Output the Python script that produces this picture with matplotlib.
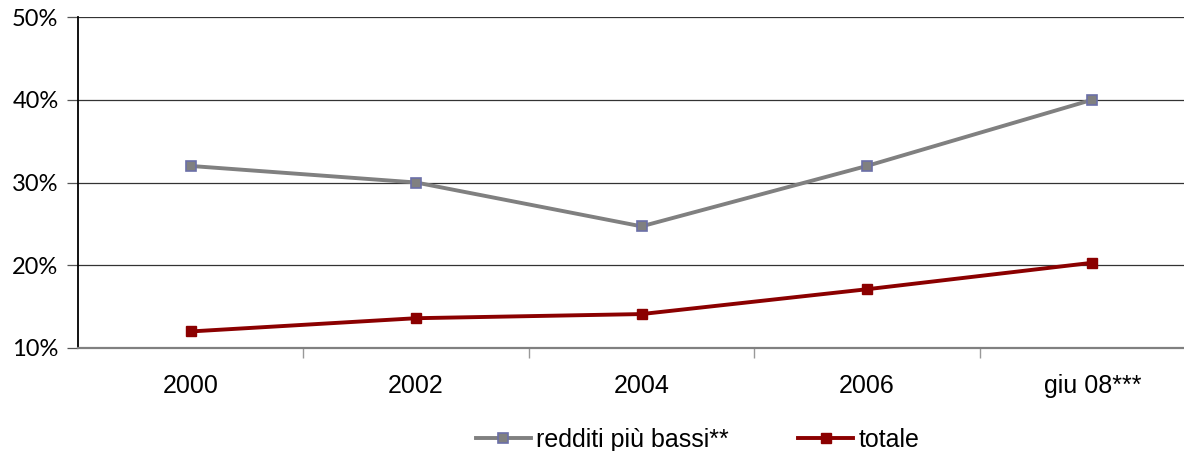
import matplotlib.pyplot as plt
from matplotlib.ticker import FixedLocator

# dati
anni = ['2000', '2002', '2004', '2006', 'giu 08***']
redditi_bassi = [32.0, 30.0, 24.7, 32.0, 40.0]
totale = [12.0, 13.6, 14.1, 17.1, 20.3]
percentuali = [10, 20, 30, 40, 50]

fig = plt.figure(figsize=(11.84, 4.51), dpi=100)
ax = fig.add_axes([78 / 1184, 1 - 348 / 451, 1127 / 1184, 331 / 451])

x = range(len(anni))
ax.plot(x, redditi_bassi, color='#808080', lw=2.8, marker='s', ms=7.5,
        mfc='#808080', mec='#6b6fa8', mew=1.2, label='redditi più bassi**', zorder=3)
ax.plot(x, totale, color='#8b0000', lw=2.8, marker='s', ms=7.5,
        mfc='#8b0000', mec='#8b0000', label='totale', zorder=3)

ax.set_xlim(-0.5, len(anni) - 0.5)
ax.set_ylim(10, 50)

# griglia orizzontale
ax.set_yticks(percentuali)
ax.set_yticklabels([f'{p}%' for p in percentuali], fontfamily='Lato', fontsize=17)
ax.grid(axis='y', color='#333333', lw=0.9)
ax.set_axisbelow(True)
ax.tick_params(axis='y', length=8, width=0.9, color='#555555', pad=6)

# etichette categorie, tacche tra le categorie
ax.set_xticks(list(x))
ax.set_xticklabels(anni, fontfamily='Liberation Sans', fontsize=18)
ax.tick_params(axis='x', length=0, pad=19)
ax.xaxis.set_minor_locator(FixedLocator([i + 0.5 for i in range(len(anni) - 1)]))
ax.tick_params(axis='x', which='minor', length=7, width=1, color='#999999')

ax.spines['top'].set_visible(False)
ax.spines['right'].set_visible(False)
ax.spines['left'].set_color('black')
ax.spines['left'].set_linewidth(1.3)
ax.spines['bottom'].set_color('#808080')
ax.spines['bottom'].set_linewidth(1.6)

fig.legend(loc='center', bbox_to_anchor=(0.589, 0.025), ncol=2, frameon=False,
           prop={'family': 'Liberation Sans', 'size': 18},
           handlelength=2.2, handletextpad=0.2, columnspacing=2.8)

fig.savefig('out.png', dpi=100)
